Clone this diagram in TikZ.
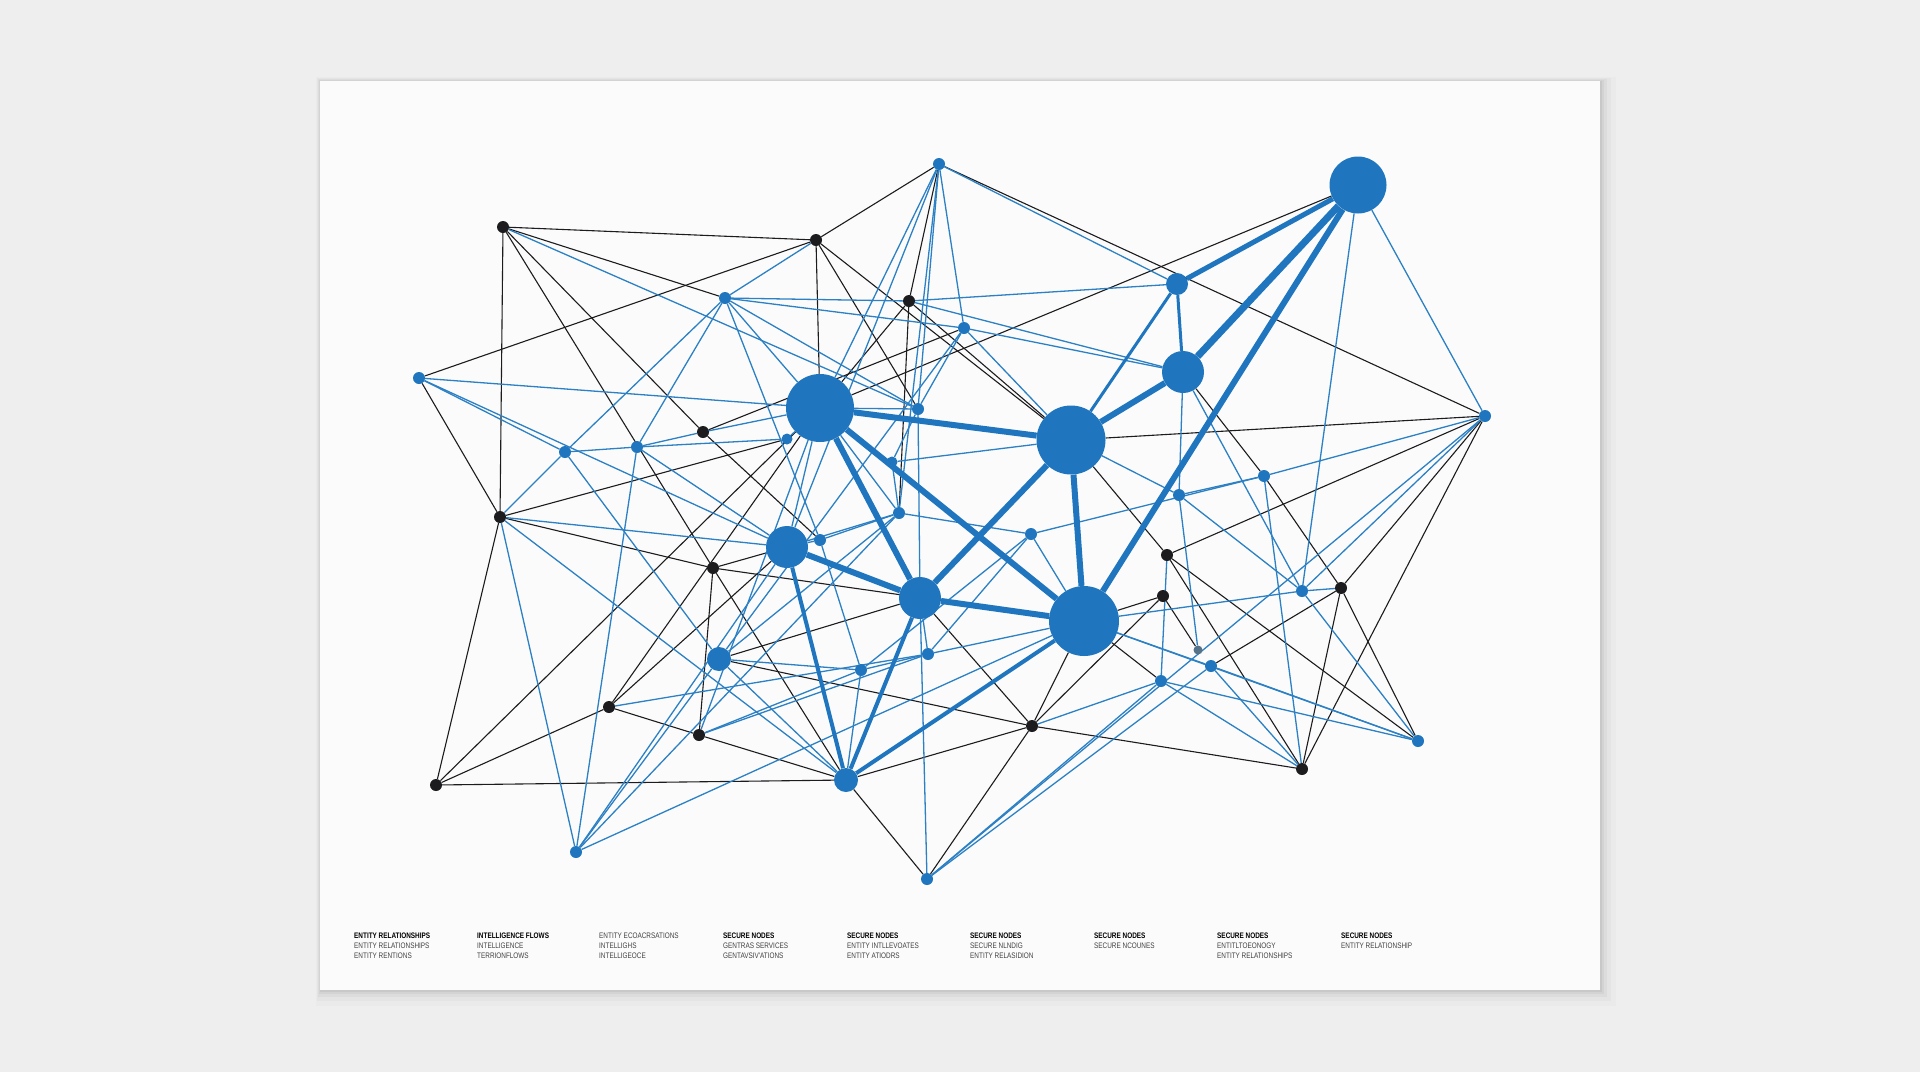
\documentclass[tikz,border=0pt]{standalone}
\usepackage{fontspec}
\setmainfont{Liberation Sans}
\newfontfamily\legendfont[FakeStretch=0.8]{Liberation Sans}
\usetikzlibrary{backgrounds}
\definecolor{netblue}{RGB}{31,118,190}
\definecolor{lineblue}{RGB}{44,128,196}
\definecolor{netblack}{RGB}{28,28,30}
\definecolor{paper}{RGB}{251,251,251}
\definecolor{wall}{RGB}{238,238,239}
\tikzset{
  hub/.style={circle,fill=netblue,inner sep=0pt,minimum size=68pt},
  mid/.style={circle,fill=netblue,inner sep=0pt,minimum size=42pt},
  dotb/.style={circle,fill=netblue,inner sep=0pt,minimum size=#1},
  dotb/.default=12pt,
  dotk/.style={circle,fill=netblack,inner sep=0pt,minimum size=12pt},
  bluelink/.style={draw=lineblue,line width=1.3pt},
  blacklink/.style={draw=netblack,line width=1.1pt},
  heavylink/.style={draw=netblue,line width=6pt},
  medlink/.style={draw=netblue,line width=3pt},
  legendhead/.style={anchor=north west,inner sep=0pt,font=\legendfont\fontsize{8}{9.5}\selectfont\bfseries,text=black},
  legendline/.style={anchor=north west,inner sep=0pt,font=\legendfont\fontsize{8}{9.5}\selectfont,text=black!75}
}
\begin{document}
\begin{tikzpicture}[x=1pt,y=-1pt]
  \useasboundingbox (0,0) rectangle (1920,1072);

  % nodes
  \node[hub,minimum size=57pt] (B1) at (1358,185) {};
  \node[hub] (H1) at (820,408) {};
  \node[hub,minimum size=69pt] (H2) at (1071,440) {};
  \node[hub,minimum size=70pt] (H3) at (1084,621) {};
  \node[mid] (M1) at (1183,372) {};
  \node[mid] (M2) at (787,547) {};
  \node[mid] (M3) at (920,598) {};
  \node[dotb=24pt] (s1) at (846,780) {};
  \node[dotb=22pt] (s2) at (1177,284) {};
  \node[dotb=24pt] (s3) at (719,659) {};

  \node[dotk] (k1) at (503,227) {};
  \node[dotk] (k2) at (816,240) {};
  \node[dotk] (k3) at (909,301) {};
  \node[dotk] (k4) at (703,432) {};
  \node[dotk] (k5) at (500,517) {};
  \node[dotk] (k6) at (713,568) {};
  \node[dotk] (k7) at (609,707) {};
  \node[dotk] (k8) at (699,735) {};
  \node[dotk] (k9) at (436,785) {};
  \node[dotk] (k10) at (1032,726) {};
  \node[dotk] (k11) at (1167,555) {};
  \node[dotk] (k12) at (1163,596) {};
  \node[dotk] (k13) at (1341,588) {};
  \node[dotk] (k14) at (1302,769) {};
  \node[dotk,fill=netblue!45!black!70,minimum size=9pt] (k15) at (1198,650) {};

  \node[dotb] (b1) at (939,164) {};
  \node[dotb] (b2) at (725,298) {};
  \node[dotb] (b3) at (419,378) {};
  \node[dotb] (b4) at (565,452) {};
  \node[dotb] (b5) at (637,447) {};
  \node[dotb] (b6) at (1485,416) {};
  \node[dotb] (b7) at (1264,476) {};
  \node[dotb] (b8) at (1179,495) {};
  \node[dotb] (b9) at (1302,591) {};
  \node[dotb] (b10) at (576,852) {};
  \node[dotb] (b11) at (927,879) {};
  \node[dotb] (b12) at (1418,741) {};
  \node[dotb] (b13) at (1161,681) {};
  \node[dotb] (b14) at (1211,666) {};
  \node[dotb] (b15) at (861,670) {};
  \node[dotb] (b16) at (928,654) {};
  \node[dotb] (b17) at (899,513) {};
  \node[dotb] (b18) at (820,540) {};
  \node[dotb] (b19) at (1031,534) {};
  \node[dotb] (b20) at (964,328) {};
  \node[dotb] (b21) at (918,409) {};
  \node[dotb=7pt] (b22) at (1251,299) {};
  \node[dotb=11pt] (b23) at (787,439) {};
  \node[dotb=11pt] (b24) at (892,462) {};

  % card, shadow and links, behind the nodes
  \begin{scope}[on background layer]
  \fill[wall] (0,0) rectangle (1920,1072);
  \foreach \d/\o in {16/0.015,11/0.025,7/0.03,4/0.04,2/0.05}
    \fill[black,opacity=\o] (320-\d/4,81-\d/4) rectangle (1600+\d,990+\d);
  \fill[paper] (320,81) rectangle (1600,990);

  \foreach \a/\b in {k1/k2,k1/b2,k1/k5,k1/k4,k1/k6,k2/b3,k2/H1,k2/b21,k2/H2,k2/b1,
      b1/k3,b1/b6,k3/H1,k3/b17,k4/b18,b3/k5,k5/k6,k5/k9,k5/b23,k6/M2,k6/H3,k6/k8,
      k6/s1,k7/k9,k7/k8,k7/M2,k7/H1,k9/s1,k9/H1,s3/k10,s3/M3,k8/s1,s1/b11,s1/k10,
      b11/k10,k10/k14,k10/H3,k10/M3,k10/k12,B1/H1,b6/H2,b6/k11,b6/k13,b6/k14,
      k13/b12,k13/k14,k13/b14,k13/b7,k11/b12,k11/k14,M1/b7,H3/k12,k12/k15,
      k11/H2,b13/H3,H2/k3,b20/k4}
    \draw[blacklink] (\a) -- (\b);

  \foreach \a/\b in {b1/s2,b1/H1,b1/b20,b1/b21,b1/b17,b1/M2,k2/b2,b2/k3,k3/s2,
      b2/b4,b2/b5,b2/b21,b2/b18,b2/H1,b3/H1,b3/b4,b3/M2,k5/b4,k5/M2,k5/b10,k5/s1,
      b4/b5,b4/s3,b5/k4,b5/b10,b5/M2,k4/H1,k1/b21,k7/b16,k8/b15,k8/H1,b10/s3,
      b10/M2,b10/b17,b10/H3,s3/s1,s3/b15,b11/b6,b11/M3,b11/b13,b11/b14,k10/b13,
      H3/b9,H3/b14,H3/b12,b9/B1,b9/k13,b9/b12,b9/b8,b6/B1,b6/b7,b6/b9,b7/b8,
      b8/M1,b13/b12,b14/b12,b13/k14,b14/k14,b7/k14,M1/b20,M1/b9,b19/H3,b19/b17,
      b23/H1,b23/b5,b24/b21,b24/b17,b24/H2,b18/M2,b18/b15,b16/b15,b16/M3,b16/H3,
      b15/b19,b16/b19,b13/k11,b8/k15,b8/H2,b20/b21,b20/H2,b21/H1,b17/H1,
      b2/b20,k3/M1,b19/b7,b18/b17,s3/b17,M2/b17,b15/s1,k8/b16,b21/M3,b20/s3,M2/H1}
    \draw[bluelink] (\a) -- (\b);

  \foreach \a/\b in {s2/M1,s2/H2}
    \draw[medlink] (\a) -- (\b);
  \draw[heavylink,line width=5pt] (B1) -- (s2);
  \draw[heavylink,line width=7pt] (B1) -- (M1);
  \draw[heavylink] (B1) -- (H3);
  \foreach \a/\b in {M1/H2,H1/H2,H1/H3,H1/M3,H2/M3,H2/H3,M2/M3,M3/H3}
    \draw[heavylink] (\a) -- (\b);
  \foreach \a/\b in {M2/s1,M3/s1,H3/s1}
    \draw[heavylink,line width=4pt] (\a) -- (\b);
  \end{scope}

  % legend
  \node[legendhead] (t1) at (354,933) {ENTITY RELATIONSHIPS};
  \node[legendline] (t1a) at (354,943) {ENTITY RELATIONSHIPS};
  \node[legendline] (t1b) at (354,953) {ENTITY RENTIONS};
  \node[legendhead] (t2) at (477,933) {INTELLIGENCE FLOWS};
  \node[legendline] (t2a) at (477,943) {INTELLIGENCE};
  \node[legendline] (t2b) at (477,953) {TERRIONFLOWS};
  \node[legendline] (t3) at (599,933) {ENTITY ECOACRSATIONS};
  \node[legendline] (t3a) at (599,943) {INTELLIGHS};
  \node[legendline] (t3b) at (599,953) {INTELLIGEOCE};
  \node[legendhead] (t4) at (723,933) {SECURE NODES};
  \node[legendline] (t4a) at (723,943) {GENTRAS SERVICES};
  \node[legendline] (t4b) at (723,953) {GENTAVSIV'ATIONS};
  \node[legendhead] (t5) at (847,933) {SECURE NODES};
  \node[legendline] (t5a) at (847,943) {ENTITY INTLLEVOATES};
  \node[legendline] (t5b) at (847,953) {ENTITY ATIODRS};
  \node[legendhead] (t6) at (970,933) {SECURE NODES};
  \node[legendline] (t6a) at (970,943) {SECURE NLNDIG};
  \node[legendline] (t6b) at (970,953) {ENTITY RELASIDION};
  \node[legendhead] (t7) at (1094,933) {SECURE NODES};
  \node[legendline] (t7a) at (1094,943) {SECURE NCOUNES};
  \node[legendhead] (t8) at (1217,933) {SECURE NODES};
  \node[legendline] (t8a) at (1217,943) {ENTITLTOEONOGY};
  \node[legendline] (t8b) at (1217,953) {ENTITY RELATIONSHIPS};
  \node[legendhead] (t9) at (1341,933) {SECURE NODES};
  \node[legendline] (t9a) at (1341,943) {ENTITY RELATIONSHIP};
\end{tikzpicture}
\end{document}
